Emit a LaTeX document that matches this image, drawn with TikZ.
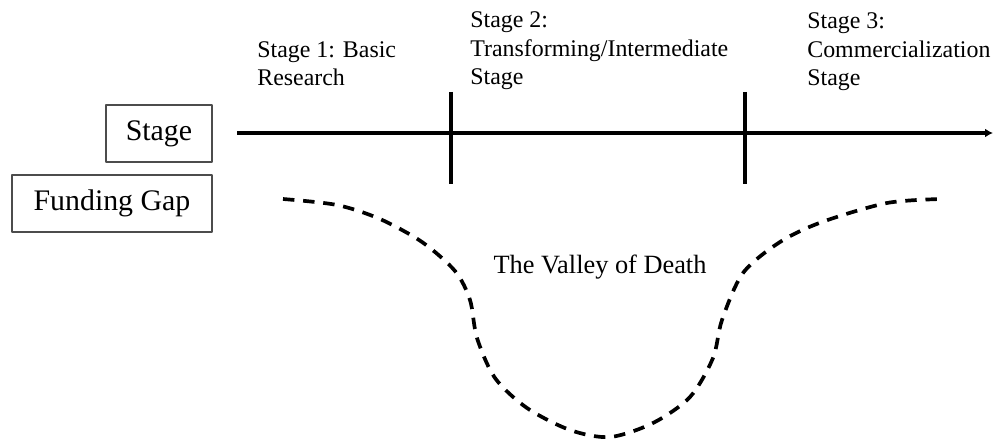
\documentclass[tikz,border=0pt]{standalone}
\usepackage{fontspec}
\setmainfont{Liberation Serif}
\usetikzlibrary{arrows.meta}
\begin{document}
\begin{tikzpicture}[x=0.02cm,y=-0.02cm,line join=round,
  stagelbl/.style={anchor=north west,inner sep=0pt,align=left,font=\fontsize{13.6}{16.2}\selectfont},
  box/.style={draw=black!70,line width=1.1pt,minimum height=1.14cm,inner sep=0pt,font=\fontsize{17}{20}\selectfont},
  axis/.style={line width=1.8pt},
  valley/.style={line width=2.1pt,dash pattern=on 6.5pt off 5pt}]
  \useasboundingbox (0,0) rectangle (994,439);
  % boxes on the left
  \node[box,minimum width=2.12cm] (stage) at (159,133.5) {Stage};
  \node[box,minimum width=4cm] (gap) at (112,203.5) {Funding Gap};
  % stage axis
  \coordinate (axs) at (237,133);
  \coordinate (axe) at (993,133);
  \draw[axis,-{Latex[length=4.5pt,width=5pt]}] (axs) -- (axe);
  \coordinate (t1a) at (451,92);
  \coordinate (t1b) at (451,184);
  \coordinate (t2a) at (745,92);
  \coordinate (t2b) at (745,184);
  \draw[axis] (t1a) -- (t1b);
  \draw[axis] (t2a) -- (t2b);
  % stage labels
  \node[stagelbl] (s1) at (257,41) {Stage 1: Basic\\Research};
  \node[stagelbl] (s2) at (470,11.5) {Stage 2:\\Transforming/Intermediate\\Stage};
  \node[stagelbl] (s3) at (807,12.5) {Stage 3:\\Commercialization\\Stage};
  % the valley
  \draw[valley] plot[smooth] coordinates {(283,199) (337,205) (380,219) (422,242) (455,271)
    (470,300) (477,338) (495,378) (527,408) (570,430) (610,437) (653,423) (690,397)
    (713,358) (722,320) (743,273) (780,242) (822,222) (887,203) (942,199)};
  \node[anchor=base,inner sep=0pt,font=\fontsize{15}{18}\selectfont] (vod) at (600,273) {The Valley of Death};
\end{tikzpicture}
\end{document}
